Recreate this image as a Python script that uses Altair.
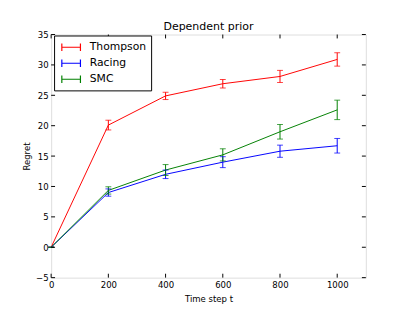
import altair as alt
import pandas as pd

# ---- data ----
t = [0, 200, 400, 600, 800, 1000]
series_names = ["Thompson", "Racing", "SMC"]
thompson = [0, 20.1, 24.9, 26.9, 28.1, 30.9]
thompson_err = [0, 0.8, 0.6, 0.7, 1.0, 1.1]
racing = [0, 9.0, 12.0, 14.0, 15.8, 16.7]
racing_err = [0, 0.6, 0.7, 0.9, 1.0, 1.2]
smc = [0, 9.35, 12.7, 15.2, 19.0, 22.6]
smc_err = [0, 0.6, 0.9, 1.0, 1.2, 1.6]
colors = ["#ff0000", "#0000ff", "#008000"]
x_ticks = [0, 200, 400, 600, 800, 1000]
y_ticks = [-5, 0, 5, 10, 15, 20, 25, 30, 35]

W, H = 321, 248
FONT = "DejaVu Sans"

rows = []
for name, vals, errs in zip(series_names, [thompson, racing, smc],
                            [thompson_err, racing_err, smc_err]):
    for ti, v, e in zip(t, vals, errs):
        rows.append({"t": ti, "value": v, "err": e, "series": name})
df = pd.DataFrame(rows)

xscale = alt.Scale(domain=[0, 1100], nice=False, zero=False)
yscale = alt.Scale(domain=[-5, 35], nice=False, zero=False)
cscale = alt.Scale(domain=series_names, range=colors)

axis_style = dict(tickSize=0, domain=False, grid=False, labelPadding=3,
                  labelOverlap=False, labelFlush=False, labelFont=FONT,
                  titleFont=FONT, labelFontSize=8.7, titleFontSize=8.7,
                  titleFontWeight="normal", labelColor="black",
                  titleColor="black", format="d")
x_axis = alt.Axis(values=x_ticks, title="Time step t", titlePadding=6,
                  **axis_style)
y_axis = alt.Axis(values=y_ticks, title="Regret", titlePadding=4,
                  **axis_style)

base = alt.Chart(df).transform_calculate(
    lo="datum.value - datum.err", hi="datum.value + datum.err"
)

lines = base.mark_line(strokeWidth=1, clip=True).encode(
    x=alt.X("t:Q", scale=xscale, axis=x_axis),
    y=alt.Y("value:Q", scale=yscale, axis=y_axis),
    color=alt.Color("series:N", scale=cscale, sort=series_names,
                    legend=alt.Legend(
                        title=None, orient="none", legendX=3, legendY=1,
                        symbolType="M-1.55,-0.62V0.62M-1.55,0H1.55M1.55,-0.62V0.62",
                        symbolSize=150, symbolStrokeWidth=1.2,
                        symbolFillColor="transparent",
                        symbolOffset=5.4, labelOffset=12,
                        labelFontSize=11, labelFont=FONT, labelColor="black",
                        rowPadding=2.3, padding=5,
                        strokeColor="black", fillColor="white",
                        cornerRadius=0)),
)

err_rules = base.mark_rule(strokeWidth=1).encode(
    x=alt.X("t:Q", scale=xscale, axis=x_axis),
    y=alt.Y("lo:Q", scale=yscale, axis=y_axis),
    y2="hi:Q",
    color=alt.Color("series:N", scale=cscale, legend=None),
)

caps = base.transform_fold(["lo", "hi"], as_=["end", "yv"]).mark_tick(
    orient="horizontal", size=6, thickness=1, opacity=0.75
).encode(
    x=alt.X("t:Q", scale=xscale, axis=x_axis),
    y=alt.Y("yv:Q", scale=yscale, axis=y_axis),
    color=alt.Color("series:N", scale=cscale, legend=None),
)

xt = pd.DataFrame({"xt": x_ticks})
yt = pd.DataFrame({"yt": y_ticks})
tick_style = dict(color="black", strokeWidth=1)
xt_bottom = alt.Chart(xt).mark_rule(**tick_style).encode(
    x=alt.X("xt:Q", scale=xscale, axis=x_axis), y=alt.value(H), y2=alt.value(H - 4))
xt_top = alt.Chart(xt).mark_rule(**tick_style).encode(
    x=alt.X("xt:Q", scale=xscale, axis=x_axis), y=alt.value(0), y2=alt.value(4))
yt_left = alt.Chart(yt).mark_rule(**tick_style).encode(
    y=alt.Y("yt:Q", scale=yscale, axis=y_axis), x=alt.value(0), x2=alt.value(4))
yt_right = alt.Chart(yt).mark_rule(**tick_style).encode(
    y=alt.Y("yt:Q", scale=yscale, axis=y_axis), x=alt.value(W), x2=alt.value(W - 4))

chart = alt.layer(
    lines, err_rules, caps, xt_bottom, xt_top, yt_left, yt_right
).properties(
    width=W, height=H,
    title=alt.TitleParams("Dependent prior", fontSize=11.2, font=FONT,
                          fontWeight="normal", color="black", offset=4,
                          dy=6, frame="group"),
    padding={"left": 44, "top": 24, "right": 42, "bottom": 32},
    autosize=alt.AutoSizeParams(type="none"),
).configure_view(
    stroke="black", strokeWidth=1
).configure(background="white")

chart.save("out.html", embed_options={"renderer": "svg", "actions": False})
